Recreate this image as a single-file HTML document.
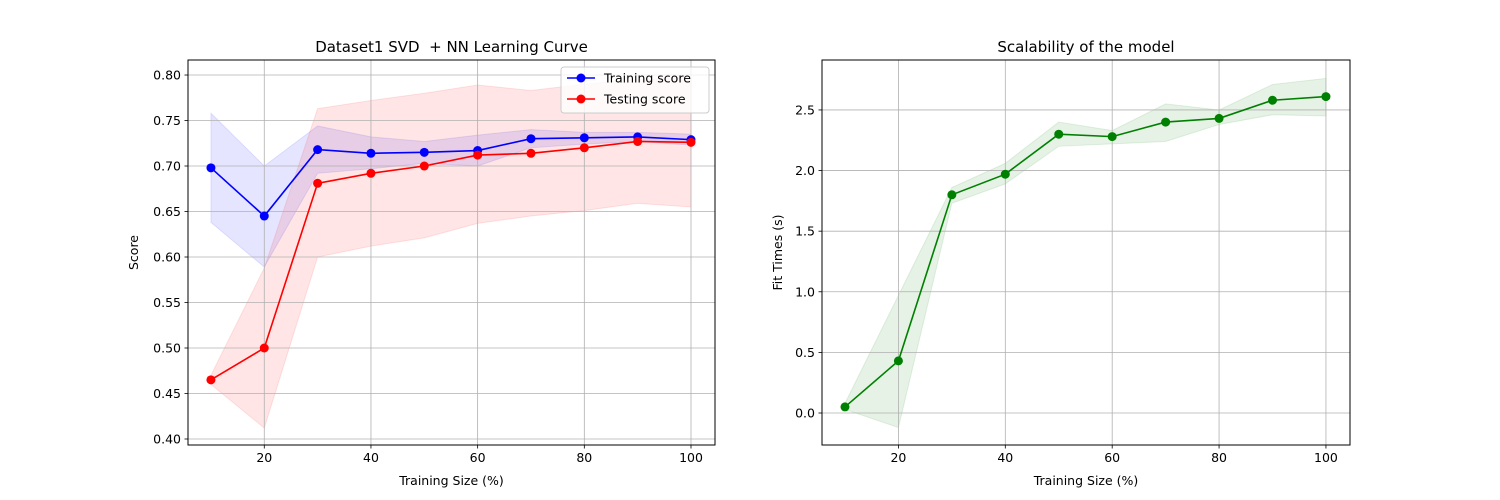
<!DOCTYPE html>
<html><head><meta charset="utf-8">
<style>body{margin:0;background:#fff}svg{display:block;font-family:"DejaVu Sans","Liberation Sans",sans-serif}</style>
</head><body>
<svg id="chart" width="1500" height="500" xmlns="http://www.w3.org/2000/svg"></svg>
<script>
const sizes=[10,20,30,40,50,60,70,80,90,100];
const trainMean=[0.698,0.645,0.718,0.714,0.715,0.717,0.730,0.731,0.732,0.729];
const trainUpper=[0.758,0.700,0.744,0.732,0.727,0.734,0.740,0.737,0.737,0.735];
const trainLower=[0.638,0.589,0.692,0.697,0.703,0.700,0.720,0.724,0.727,0.723];
const testMean=[0.465,0.500,0.681,0.692,0.700,0.712,0.714,0.720,0.727,0.726];
const testUpper=[0.470,0.588,0.763,0.772,0.780,0.789,0.783,0.790,0.795,0.797];
const testLower=[0.460,0.412,0.600,0.612,0.621,0.637,0.645,0.651,0.659,0.655];
const fitMean=[0.05,0.43,1.80,1.97,2.30,2.28,2.40,2.43,2.58,2.61];
const fitUpper=[0.08,0.97,1.86,2.06,2.40,2.33,2.55,2.50,2.71,2.76];
const fitLower=[0.03,-0.12,1.73,1.89,2.20,2.22,2.24,2.38,2.46,2.45];
const xTicks=[20,40,60,80,100];
const scoreTicks=[0.40,0.45,0.50,0.55,0.60,0.65,0.70,0.75,0.80];
const fitTicks=[0.0,0.5,1.0,1.5,2.0,2.5];

const svg=document.getElementById('chart');
const NS='http://www.w3.org/2000/svg';
function mk(tag,attrs,parent){const e=document.createElementNS(NS,tag);for(const k in attrs)e.setAttribute(k,attrs[k]);(parent||svg).appendChild(e);return e;}
function txt(s,attrs,parent){const e=mk('text',attrs,parent);e.textContent=s;return e;}

function panel(o){
  const g=mk('g',{});
  
  
  const X=v=>o.x0+(v-o.xmin)/(o.xmax-o.xmin)*(o.x1-o.x0);
  const Y=v=>o.y1-(v-o.ymin)/(o.ymax-o.ymin)*(o.y1-o.y0);
  o.bands.forEach(b=>{
    let d='M'+sizes.map((s,i)=>X(s)+','+Y(b.up[i])).join('L')+'L'+sizes.map((s,i)=>X(s)+','+Y(b.lo[i])).reverse().join('L')+'Z';
    const p=mk('path',{d:d,fill:b.color,'fill-opacity':0.1,stroke:b.color,'stroke-opacity':0.1},g);
    
    
  });
  xTicks.forEach(t=>{const l=mk('line',{x1:X(t),x2:X(t),y1:o.y0,y2:o.y1,stroke:'#b0b0b0','stroke-width':0.8},g);
    mk('line',{x1:X(t),x2:X(t),y1:o.y1,y2:o.y1+3.5,stroke:'#000','stroke-width':0.8},g);
    const tl=txt(String(t),{x:X(t),y:o.y1+17,'text-anchor':'middle','font-size':12.5,fill:'#000'},g);});
  o.yt.forEach(t=>{const l=mk('line',{x1:o.x0,x2:o.x1,y1:Y(t),y2:Y(t),stroke:'#b0b0b0','stroke-width':0.8},g);
    mk('line',{x1:o.x0-3.5,x2:o.x0,y1:Y(t),y2:Y(t),stroke:'#000','stroke-width':0.8},g);
    const tl=txt(t.toFixed(o.dec),{x:o.x0-7,y:Y(t)+4.5,'text-anchor':'end','font-size':12.5,fill:'#000'},g);});
  o.lines.forEach(s=>{
    const pl=mk('polyline',{points:sizes.map((x,i)=>X(x)+','+Y(s.v[i])).join(' '),fill:'none',stroke:s.color,'stroke-width':1.6},g);
    
    sizes.forEach((x,i)=>{const c=mk('circle',{cx:X(x),cy:Y(s.v[i]),r:4.5,fill:s.color},g);});
  });
  const fr=mk('rect',{x:o.x0,y:o.y0,width:o.x1-o.x0,height:o.y1-o.y0,fill:'none',stroke:'#000','stroke-width':1},g);
  
  const t=txt(o.title,{x:(o.x0+o.x1)/2,y:o.y0-8,'text-anchor':'middle','font-size':15,fill:'#000',style:'white-space:pre'},g);
  
  const xl=txt('Training Size (%)',{x:(o.x0+o.x1)/2,y:o.y1+40,'text-anchor':'middle','font-size':12.5,fill:'#000'},g);
  
  const yx=o.x0-o.ylOff, yy=(o.y0+o.y1)/2;
  const yl=txt(o.ylabel,{x:yx,y:yy,'text-anchor':'middle','font-size':12.5,fill:'#000',transform:'rotate(-90 '+yx+' '+yy+')'},g);
  
  return g;
}

panel({name:'learning-curve-panel',x0:188,x1:715,y0:60,y1:445,xmin:5.7,xmax:104.5,ymin:0.3934,ymax:0.8165,yt:scoreTicks,dec:2,
 title:'Dataset1 SVD  + NN Learning Curve',ylabel:'Score',ylOff:50,
 bands:[{up:trainUpper,lo:trainLower,color:'#0000ff',name:'training-score-band'},{up:testUpper,lo:testLower,color:'#ff0000',name:'testing-score-band'}],
 lines:[{v:trainMean,color:'#0000ff',name:'training-score'},{v:testMean,color:'#ff0000',name:'testing-score'}]});

panel({name:'scalability-panel',x0:822,x1:1350,y0:60,y1:445,xmin:5.7,xmax:104.5,ymin:-0.264,ymax:2.912,yt:fitTicks,dec:1,
 title:'Scalability of the model',ylabel:'Fit Times (s)',ylOff:40,
 bands:[{up:fitUpper,lo:fitLower,color:'#008000',name:'fit-time-band'}],
 lines:[{v:fitMean,color:'#008000',name:'fit-time'}]});

const lg=mk('g',{});


mk('rect',{x:561,y:67,width:148,height:46,rx:3,fill:'#fff','fill-opacity':0.8,stroke:'#cccccc'},lg);
[['Training score','#0000ff',78],['Testing score','#ff0000',99]].forEach(([n,c,y])=>{
  const e=mk('g',{},lg);
  
  
  mk('line',{x1:557+10,x2:557+38,y1:y,y2:y,stroke:c,'stroke-width':1.6},e);
  mk('circle',{cx:557+24,cy:y,r:4.5,fill:c},e);
  txt(n,{x:604,y:y+4.5,'font-size':12.5,fill:'#000'},e);
});
</script>
</body></html>
